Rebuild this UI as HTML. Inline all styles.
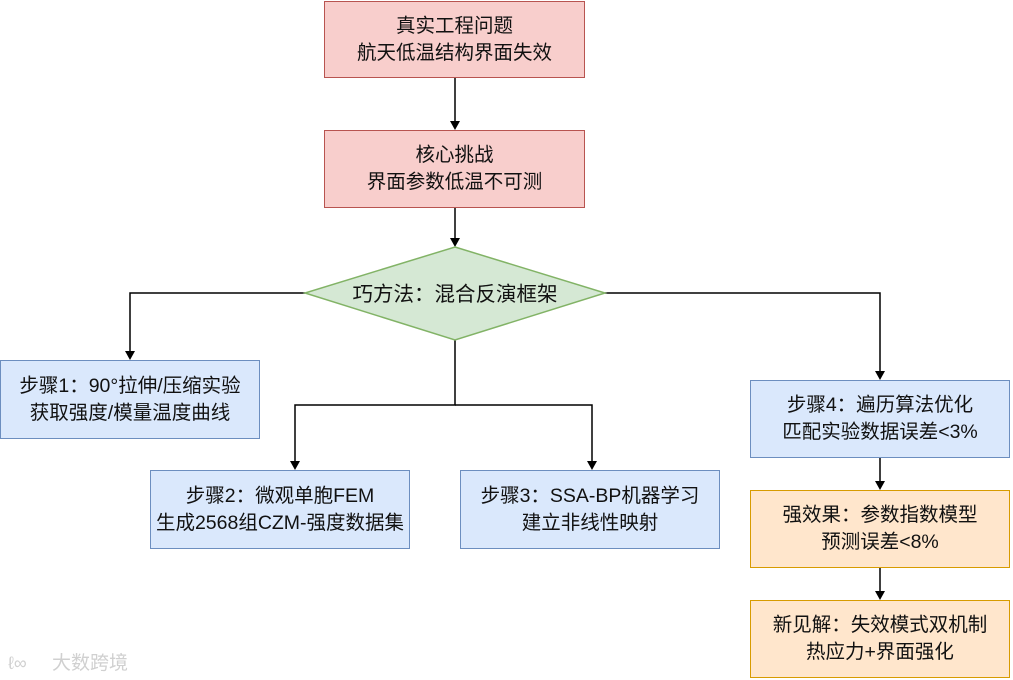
<!DOCTYPE html>
<html><head><meta charset="utf-8"><style>
html,body{margin:0;padding:0;background:#fff;}
body{width:1013px;height:680px;position:relative;overflow:hidden;font-family:"Liberation Sans","Noto Sans CJK SC",sans-serif;}
.b{position:absolute;box-sizing:border-box;border:1.5px solid;display:flex;align-items:center;justify-content:center;text-align:center;font-size:19.5px;line-height:27px;color:#111;}
.r{background:#f8cecc;border-color:#b85450;}
.u{background:#dae8fc;border-color:#6c8ebf;}
.o{background:#ffe6cc;border-color:#d79b00;}
svg{position:absolute;left:0;top:0;}
</style></head><body>
<svg width="1013" height="680">
<g stroke="#000" stroke-width="1.5" fill="none">
<path d="M455,78 V128"/><path d="M455,208 V245"/>
<path d="M305,293 H130 V358"/>
<path d="M455,340 V405 H295 V468"/><path d="M455,405 H592 V468"/>
<path d="M605,293 H880 V378"/>
<path d="M880,458 V488"/><path d="M880,568 V598"/>
</g>
<g fill="#000">
<path d="M450,121 L460,121 L455,130 Z"/>
<path d="M450,238 L460,238 L455,247 Z"/>
<path d="M125,351 L135,351 L130,360 Z"/>
<path d="M290,461 L300,461 L295,470 Z"/>
<path d="M587,461 L597,461 L592,470 Z"/>
<path d="M875,371 L885,371 L880,380 Z"/>
<path d="M875,481 L885,481 L880,490 Z"/>
<path d="M875,591 L885,591 L880,600 Z"/>
</g>
<polygon points="455,247 605,293 455,340 305,293" fill="#d5e8d4" stroke="#82b366" stroke-width="1.5"/>
<text x="455" y="301" text-anchor="middle" font-size="20.5" font-family="Liberation Sans,Noto Sans CJK SC,sans-serif" fill="#111">巧方法：混合反演框架</text>
<text x="52" y="669" font-size="19" fill="#d0d0d0" font-family="Liberation Sans,Noto Sans CJK SC,sans-serif">大数跨境</text>
<text x="8" y="669" font-size="18" fill="#d0d0d0" font-family="Liberation Sans,sans-serif">ℓ∞</text>
</svg>
<div class="b r" style="left:324px;top:1px;width:261px;height:77px;">真实工程问题<br>航天低温结构界面失效</div>
<div class="b r" style="left:324px;top:130px;width:261px;height:78px;">核心挑战<br>界面参数低温不可测</div>
<div class="b u" style="left:0px;top:360px;width:260px;height:79px;">步骤1：90°拉伸/压缩实验<br>获取强度/模量温度曲线</div>
<div class="b u" style="left:150px;top:470px;width:260px;height:79px;">步骤2：微观单胞FEM<br>生成2568组CZM-强度数据集</div>
<div class="b u" style="left:460px;top:470px;width:260px;height:79px;">步骤3：SSA-BP机器学习<br>建立非线性映射</div>
<div class="b u" style="left:750px;top:380px;width:260px;height:78px;">步骤4：遍历算法优化<br>匹配实验数据误差&lt;3%</div>
<div class="b o" style="left:750px;top:490px;width:260px;height:78px;">强效果：参数指数模型<br>预测误差&lt;8%</div>
<div class="b o" style="left:750px;top:600px;width:260px;height:78px;">新见解：失效模式双机制<br>热应力+界面强化</div>
</body></html>
